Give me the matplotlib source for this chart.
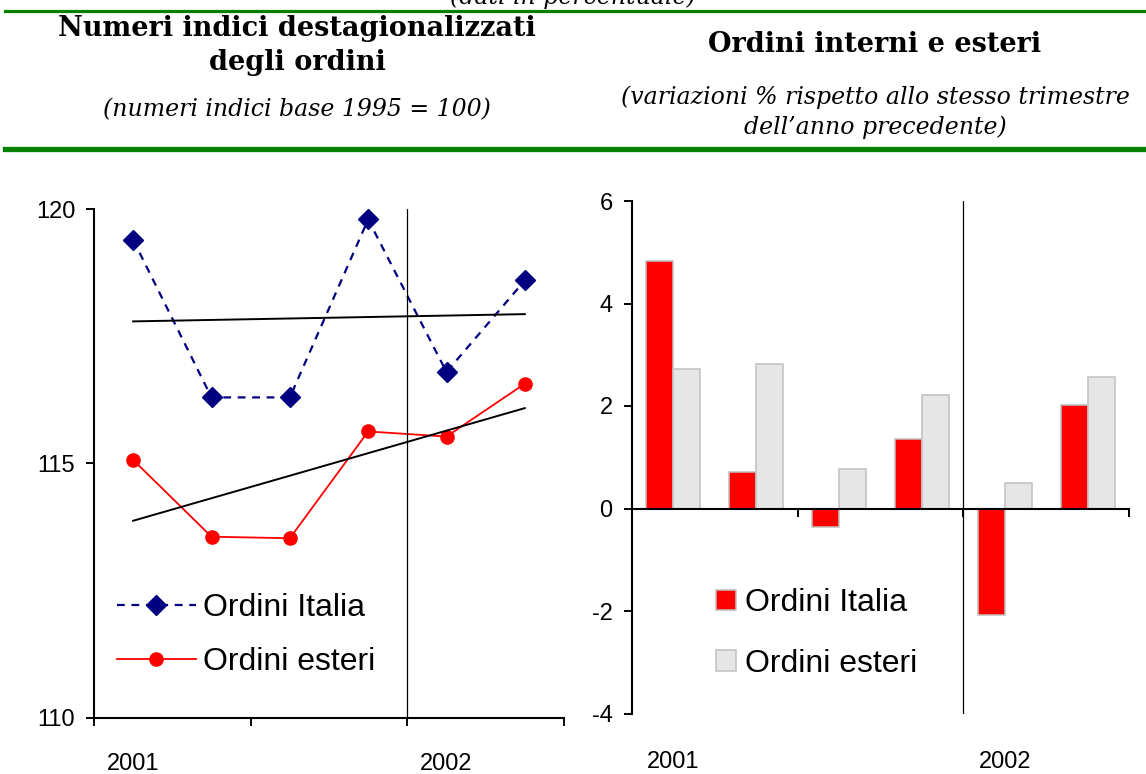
import matplotlib
matplotlib.use('Agg')
import matplotlib.pyplot as plt
import numpy as np

# Quarterly data: 2001 Q1-Q4, 2002 Q1-Q2
quarters = ['I-01', 'II-01', 'III-01', 'IV-01', 'I-02', 'II-02']
years = ['2001', '2002']
year_pos = [0, 4]

# Left: seasonally adjusted index numbers (1995 = 100)
idx_italia = [119.4, 116.3, 116.3, 119.8, 116.8, 118.6]
idx_esteri = [115.07, 113.56, 113.53, 115.63, 115.53, 116.57]

# Right: % change on same quarter of previous year
var_italia = [4.82, 0.72, -0.36, 1.35, -2.07, 2.01]
var_esteri = [2.72, 2.81, 0.77, 2.22, 0.50, 2.56]

W, H = 1146, 774
fig = plt.figure(figsize=(W / 100, H / 100), dpi=100)
plt.rcParams['font.family'] = ['Liberation Sans', 'DejaVu Sans']

green = '#008000'
navy = '#000080'
red = '#ff0000'
grey_fill = '#e6e6e6'
grey_edge = '#c0c0c0'

# header: green rules and titles
fig.add_artist(plt.Line2D([5 / W, 1], [1 - 11 / H] * 2, color=green, lw=2.3))
fig.add_artist(plt.Line2D([5 / W, 1], [1 - 148.5 / H] * 2, color=green, lw=3.8))
fig.text(573 / W, 1 - 4 / H, '(dati in percentuale)', ha='center', va='baseline',
         family='DejaVu Serif', style='italic', fontsize=17)

fig.text(297 / W, 1 - 28 / H, 'Numeri indici destagionalizzati', ha='center', va='center',
         family='DejaVu Serif', weight='bold', fontsize=19.5)
fig.text(297 / W, 1 - 62 / H, 'degli ordini', ha='center', va='center',
         family='DejaVu Serif', weight='bold', fontsize=19.5)
fig.text(297 / W, 1 - 110 / H, '(numeri indici base 1995 = 100)', ha='center', va='center',
         family='DejaVu Serif', style='italic', fontsize=17)
fig.text(875 / W, 1 - 45 / H, 'Ordini interni e esteri', ha='center', va='center',
         family='DejaVu Serif', weight='bold', fontsize=19.5)
fig.text(875 / W, 1 - 97 / H, "(variazioni % rispetto allo stesso trimestre", ha='center',
         va='center', family='DejaVu Serif', style='italic', fontsize=17)
fig.text(875 / W, 1 - 127 / H, "dell\u2019anno precedente)", ha='center', va='center',
         family='DejaVu Serif', style='italic', fontsize=17)

x = np.arange(len(quarters))

# ---- left chart: index numbers with linear trends
ax1 = fig.add_axes([94 / W, 1 - 717.7 / H, 470 / W, 508.4 / H])
ax1.plot(x, idx_italia, color=navy, lw=1.6, linestyle=(0, (3.5, 3)), marker='D',
         markersize=10, label='Ordini Italia')
ax1.plot(x, idx_esteri, color=red, lw=1.3, marker='o', markersize=9.5,
         label='Ordini esteri')
for series in (idx_italia, idx_esteri):
    k, b = np.polyfit(x, series, 1)
    ax1.plot(x[[0, -1]], k * x[[0, -1]] + b, color='black', lw=1.4)
ax1.axvline(3.5, color='black', lw=0.9)
ax1.set_xlim(-0.5, 5.5)
ax1.set_ylim(110, 120)
ax1.set_yticks([110, 115, 120])
ax1.set_xticks([-0.5, 1.5, 3.5, 5.5])
ax1.set_xticklabels([])
ax1.tick_params(axis='both', direction='out', length=5.5, width=1.4, labelsize=17, pad=8)
for s in ('top', 'right'):
    ax1.spines[s].set_visible(False)
for s in ('left', 'bottom'):
    ax1.spines[s].set_linewidth(1.5)
for yr, p in zip(years, year_pos):
    ax1.annotate(yr, xy=(p, 0), xycoords=('data', 'axes fraction'), xytext=(0, -33),
                 textcoords='offset points', ha='center', va='center', fontsize=17)
ax1.legend(loc='center left', bbox_to_anchor=(0.048, 0.163), frameon=False, fontsize=23,
           borderpad=0, borderaxespad=0, handlelength=2.5, handletextpad=0.22,
           labelspacing=0.75)

# ---- right chart: bars of % changes
ax2 = fig.add_axes([632 / W, 1 - 713.5 / H, 497 / W, 512.5 / H])
bw = 0.325
ax2.bar(x - bw / 2, var_italia, width=bw, color=red, edgecolor=grey_edge, lw=1.1,
        label='Ordini Italia', zorder=2)
ax2.bar(x + bw / 2, var_esteri, width=bw, color=grey_fill, edgecolor=grey_edge, lw=1.1,
        label='Ordini esteri', zorder=2)
ax2.axvline(3.5, color='black', lw=0.9)
ax2.set_xlim(-0.5, 5.5)
ax2.set_ylim(-4, 6)
ax2.set_yticks([-4, -2, 0, 2, 4, 6])
ax2.set_yticklabels(['-4', '-2', '0', '2', '4', '6'])
ax2.set_xticks([1.5, 3.5, 5.5])
ax2.set_xticklabels([])
ax2.spines['bottom'].set_position(('data', 0))
for s in ('top', 'right'):
    ax2.spines[s].set_visible(False)
for s in ('left', 'bottom'):
    ax2.spines[s].set_linewidth(1.5)
    ax2.spines[s].set_zorder(3)
ax2.tick_params(axis='both', direction='out', length=6, width=1.4, labelsize=17, pad=8)
for yr, p in zip(years, year_pos):
    ax2.annotate(yr, xy=(p, 0), xycoords=('data', 'axes fraction'), xytext=(0, -35),
                 textcoords='offset points', ha='center', va='center', fontsize=17)
ax2.legend(loc='center left', bbox_to_anchor=(0.170, 0.156), frameon=False, fontsize=23,
           borderpad=0, borderaxespad=0, handlelength=0.6, handleheight=0.6,
           handletextpad=0.3, labelspacing=0.95)

fig.savefig('out.png', dpi=100)
